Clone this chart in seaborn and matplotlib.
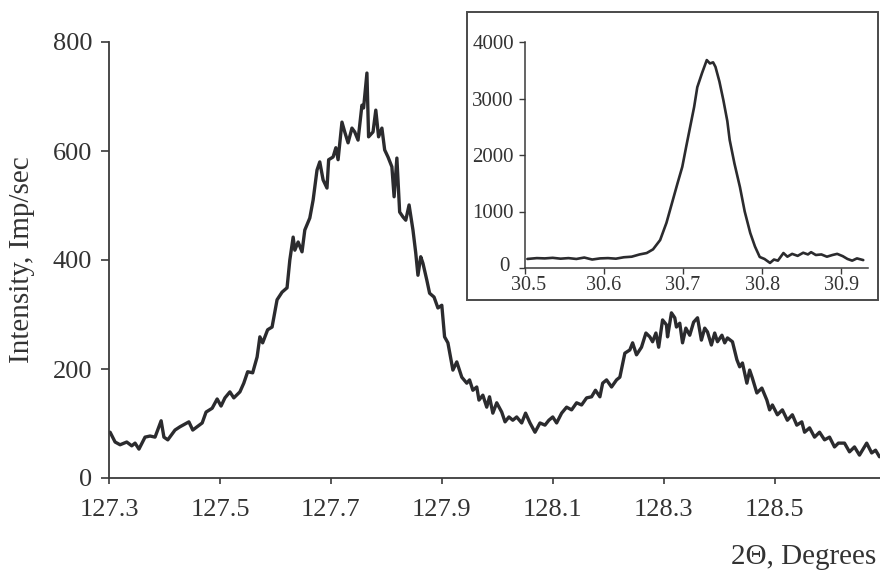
import matplotlib
matplotlib.use("Agg")
import matplotlib.pyplot as plt
import matplotlib.patches as mpatches
import matplotlib.transforms as mtransforms
import seaborn as sns
import pandas as pd

# ---------------- data ----------------
main_two_theta = [
    127.302, 127.311, 127.320, 127.332, 127.341, 127.347, 127.354, 127.365, 127.374, 127.383,
    127.394, 127.399, 127.406, 127.419, 127.428, 127.437, 127.444, 127.451, 127.460, 127.468,
    127.475, 127.486, 127.495, 127.502, 127.509, 127.518, 127.525, 127.536, 127.543, 127.550,
    127.559, 127.567, 127.572, 127.577, 127.586,
    127.594, 127.603, 127.612, 127.621, 127.626, 127.632, 127.635, 127.641, 127.648, 127.653,
    127.662, 127.668, 127.675, 127.680, 127.686, 127.693, 127.696, 127.704, 127.709, 127.713,
    127.720, 127.725, 127.731, 127.738, 127.743, 127.749, 127.756, 127.759, 127.765, 127.768,
    127.776, 127.781, 127.786, 127.792, 127.797, 127.803, 127.810, 127.814, 127.819, 127.824,
    127.830, 127.835, 127.841, 127.848, 127.853, 127.857, 127.862, 127.866, 127.873, 127.878,
    127.886, 127.893,
    127.900, 127.905, 127.911, 127.920, 127.927, 127.936, 127.945, 127.950, 127.956, 127.963,
    127.967, 127.974, 127.981, 127.986, 127.992, 127.999, 128.008, 128.014, 128.021, 128.028,
    128.035, 128.044, 128.051, 128.059, 128.068, 128.077, 128.086, 128.093, 128.100, 128.107,
    128.116, 128.125, 128.134, 128.143, 128.152, 128.161, 128.170, 128.177, 128.185, 128.190,
    128.197, 128.206, 128.215, 128.221,
    128.230, 128.239, 128.244, 128.251, 128.260, 128.268, 128.275, 128.280, 128.286, 128.291,
    128.298, 128.305, 128.307, 128.314, 128.320, 128.323, 128.329, 128.334, 128.340, 128.347,
    128.354, 128.361, 128.368, 128.374, 128.379, 128.386, 128.392, 128.397, 128.405, 128.410,
    128.415, 128.424, 128.432, 128.437, 128.442, 128.450, 128.455, 128.460, 128.468, 128.477,
    128.486, 128.491, 128.496, 128.505, 128.514, 128.523, 128.532, 128.540, 128.549, 128.554,
    128.563, 128.572, 128.581, 128.590, 128.599, 128.608, 128.615, 128.626, 128.635, 128.644,
    128.653, 128.666, 128.675, 128.682, 128.689,
]
main_intensity = [
    84, 66, 61, 66, 59, 64, 53, 75, 77, 75,
    105, 75, 70, 88, 94, 99, 103, 88, 95, 101,
    121, 128, 145, 132, 147, 158, 147, 158, 174, 195,
    193, 222, 259, 248, 272,
    277, 327, 341, 349, 400, 442, 418, 433, 415, 455,
    477, 510, 565, 580, 547, 532, 584, 589, 606, 584,
    653, 635, 615, 642, 635, 620, 684, 679, 743, 626,
    635, 675, 626, 642, 602, 589, 571, 516, 587, 488,
    479, 473, 501, 455, 413, 372, 406, 394, 363, 339,
    332, 312,
    317, 259, 248, 198, 213, 185, 174, 180, 161, 167,
    143, 152, 130, 149, 119, 138, 121, 103, 112, 106,
    112, 101, 119, 101, 84, 101, 97, 106, 112, 101,
    119, 130, 125, 138, 134, 147, 149, 161, 149, 174,
    180, 167, 180, 185,
    229, 235, 248, 226, 240, 266, 259, 250, 266, 240,
    290, 281, 259, 303, 294, 277, 284, 248, 275, 262,
    286, 294, 253, 275, 268, 244, 266, 250, 262, 248,
    257, 250, 217, 204, 211, 174, 198, 183, 156, 165,
    143, 125, 134, 116, 125, 106, 116, 97, 103, 84,
    92, 75, 84, 70, 75, 57, 64, 64, 48, 57,
    42, 64, 46, 51, 39,
]

inset_two_theta = [
    30.503, 30.515, 30.525, 30.535, 30.545, 30.555, 30.565, 30.575, 30.585, 30.595,
    30.605, 30.615, 30.625, 30.635, 30.645, 30.654, 30.662, 30.671, 30.679, 30.687,
    30.693, 30.699, 30.704, 30.709, 30.714, 30.718, 30.724, 30.730, 30.734, 30.738,
    30.741, 30.746, 30.751, 30.756, 30.759, 30.765, 30.772, 30.778, 30.785, 30.791,
    30.797, 30.803, 30.810, 30.815, 30.820, 30.827, 30.832, 30.838, 30.845, 30.852,
    30.858, 30.862, 30.868, 30.875, 30.882, 30.889, 30.895, 30.902, 30.908, 30.914,
    30.920, 30.928,
]
inset_intensity = [
    160, 175, 170, 180, 165, 175, 160, 185, 150, 170,
    175, 165, 190, 200, 240, 265, 330, 495, 800, 1200,
    1500, 1790, 2150, 2500, 2850, 3200, 3450, 3680, 3620, 3640,
    3560, 3300, 2970, 2600, 2265, 1850, 1430, 1000, 620, 380,
    195, 160, 90, 150, 130, 265, 200, 250, 215, 270,
    240, 280, 230, 240, 200, 230, 250, 210, 160, 130,
    170, 140,
]

main_xticks = [127.3, 127.5, 127.7, 127.9, 128.1, 128.3, 128.5]
main_yticks = [0, 200, 400, 600, 800]
inset_xticks = [30.5, 30.6, 30.7, 30.8, 30.9]
inset_yticks = [0, 1000, 2000, 3000, 4000]

y_label = "Intensity, Imp/sec"
x_label = "2\u0398, Degrees"

# ---------------- style ----------------
sns.set_style("ticks")
plt.rcParams["font.family"] = ["Liberation Serif", "DejaVu Serif"]
plt.rcParams["axes.edgecolor"] = "#3a3a3a"
plt.rcParams["xtick.color"] = "#3a3a3a"
plt.rcParams["ytick.color"] = "#3a3a3a"

ink = "#2b2b2e"
text_col = "#333333"

main_df = pd.DataFrame({"two_theta": main_two_theta, "intensity": main_intensity})
inset_df = pd.DataFrame({"two_theta": inset_two_theta, "intensity": inset_intensity})

W, H = 880, 571
fig = plt.figure(figsize=(W / 100, H / 100), dpi=100)
fig.patch.set_facecolor("white")

# main axes
ax = fig.add_axes([109 / W, 93 / H, 771 / W, 436 / H])
sns.lineplot(data=main_df, x="two_theta", y="intensity", ax=ax,
             color=ink, linewidth=2.4, sort=False)
ax.set_xlim(127.3, 128.69)
ax.set_ylim(0, 800)
ax.set_xticks(main_xticks)
ax.set_xticklabels([f"{v:.1f}" for v in main_xticks])
ax.set_yticks(main_yticks)
ax.tick_params(axis="x", direction="out", length=4, width=1.2, pad=11,
               labelsize=19, labelcolor=text_col)
ax.tick_params(axis="y", direction="out", length=6, width=1.2, pad=6,
               labelsize=19, labelcolor=text_col)
for s in ["top", "right"]:
    ax.spines[s].set_visible(False)
for s in ["left", "bottom"]:
    ax.spines[s].set_linewidth(1.3)
ax.set_xlabel("")
ax.set_ylabel("")
ax.set_facecolor("none")

fig.text(22 / W, 1 - 260 / H, y_label, rotation=90, ha="center", va="center",
         fontsize=21, color=text_col)
fig.text(876 / W, 1 - 557 / H, x_label, ha="right", va="center",
         fontsize=21, color=text_col)

# inset frame
frame = mpatches.Rectangle((467 / W, 1 - 300 / H), 411 / W, 288 / H,
                           transform=fig.transFigure, facecolor="white",
                           edgecolor="#4a4a4a", linewidth=1.4, zorder=1)
fig.patches.append(frame)

# inset axes
axi = fig.add_axes([525 / W, 1 - 268 / H, 343 / W, 226 / H], zorder=2)
sns.lineplot(data=inset_df, x="two_theta", y="intensity", ax=axi,
             color=ink, linewidth=1.9, sort=False)
axi.set_xlim(30.5, 30.934)
axi.set_ylim(0, 4000)
axi.set_xticks(inset_xticks)
axi.set_xticklabels([f"{v:.1f}" for v in inset_xticks])
axi.set_yticks(inset_yticks)
axi.tick_params(axis="x", direction="out", length=4, width=1.0, pad=1.5,
                labelsize=14.5, labelcolor=text_col)
axi.tick_params(axis="y", direction="out", length=4, width=1.0, pad=4,
                labelsize=15, labelcolor=text_col)
for s in ["top", "right"]:
    axi.spines[s].set_visible(False)
for s in ["left", "bottom"]:
    axi.spines[s].set_linewidth(1.1)
axi.set_xlabel("")
axi.set_ylabel("")
axi.set_facecolor("white")

# nudge the inset's "0" label and "30.5" label apart, as in the reference
zero_lbl = axi.get_yticklabels()[0]
zero_lbl.set_transform(zero_lbl.get_transform() +
                       mtransforms.ScaledTranslation(-4 / 100, 4 / 100, fig.dpi_scale_trans))
first_x_lbl = axi.get_xticklabels()[0]
first_x_lbl.set_transform(first_x_lbl.get_transform() +
                          mtransforms.ScaledTranslation(4 / 100, 0, fig.dpi_scale_trans))

fig.savefig("out.png", dpi=100, facecolor="white")
